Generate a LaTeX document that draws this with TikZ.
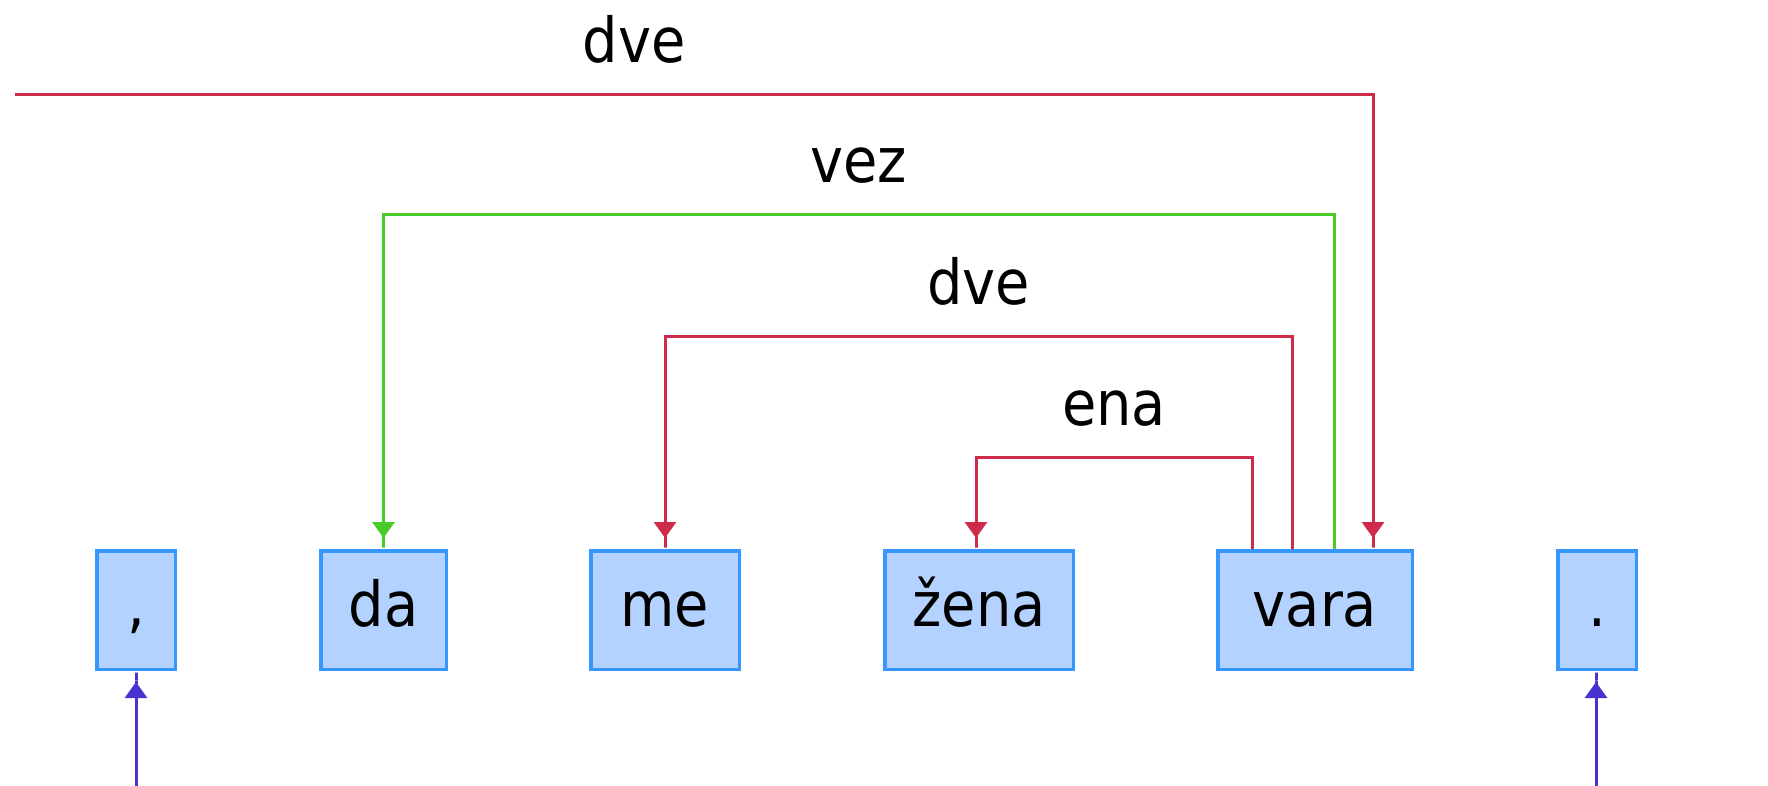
\documentclass[tikz,border=0pt]{standalone}
\usepackage{fontspec}
\setmainfont{DejaVu Sans Condensed}
\usepackage{xcolor}
\usetikzlibrary{arrows.meta}
\definecolor{depred}{RGB}{206,42,74}
\definecolor{depgreen}{RGB}{72,204,40}
\definecolor{depblue}{RGB}{72,50,208}
\definecolor{tokfill}{RGB}{180,210,255}
\definecolor{tokline}{RGB}{56,150,255}

\begin{document}
\begin{tikzpicture}[x=1pt, y=-1pt, font=\fontsize{62}{74}\selectfont,
  tok/.style={draw=tokline, fill=tokfill, line width=3.5pt, minimum height=118.5pt,
    minimum width=#1, text height=47pt, text depth=15pt, inner sep=0pt},
  dep/.style={line width=3pt,
    -{Triangle[width=22pt,length=16pt] Rectangle[width=3pt,length=11pt]}},
  lbl/.style={anchor=base, yshift=32pt, inner sep=0pt, text=black}]
  \useasboundingbox (0,0) rectangle (1768,786);

  % Pojavnice
  \node[tok=78.5pt]  (comma)  at (136,610)   {,};
  \node[tok=125.5pt] (da)     at (383.5,610) {da};
  \node[tok=148.5pt] (me)     at (665,610)   {me};
  \node[tok=188.5pt] (zena)   at (979,610)   {žena};
  \node[tok=194.5pt] (vara)   at (1315,610)  {vara};
  \node[tok=78.5pt]  (period) at (1597,610)  {.};

  % Odvisnosti iz "vara"
  \draw[dep, depred] ([xshift=-63pt]vara.north) -- ++(0,-92) -| ([xshift=-3pt]zena.north)
    node[lbl, pos=0.25] {ena};
  \draw[dep, depred] ([xshift=-23pt]vara.north) -- ++(0,-213) -| (me.north)
    node[lbl, pos=0.25] {dve};
  \draw[dep, depgreen] ([xshift=19pt]vara.north) -- ++(0,-334) -| (da.north)
    node[lbl, pos=0.25] {vez};

  % Odvisnost od leve strani
  \coordinate (lft) at (15,95);
  \draw[dep, depred] (lft) -| ([xshift=58pt]vara.north)
    node[lbl, pos=0.228] {dve};

  % Puščici od spodaj
  \coordinate (cb) at (136,786);
  \coordinate (pb) at (1596,786);
  \draw[dep, depblue] (cb) -- (comma.south);
  \draw[dep, depblue] (pb) -- ([xshift=-1pt]period.south);
\end{tikzpicture}
\end{document}
